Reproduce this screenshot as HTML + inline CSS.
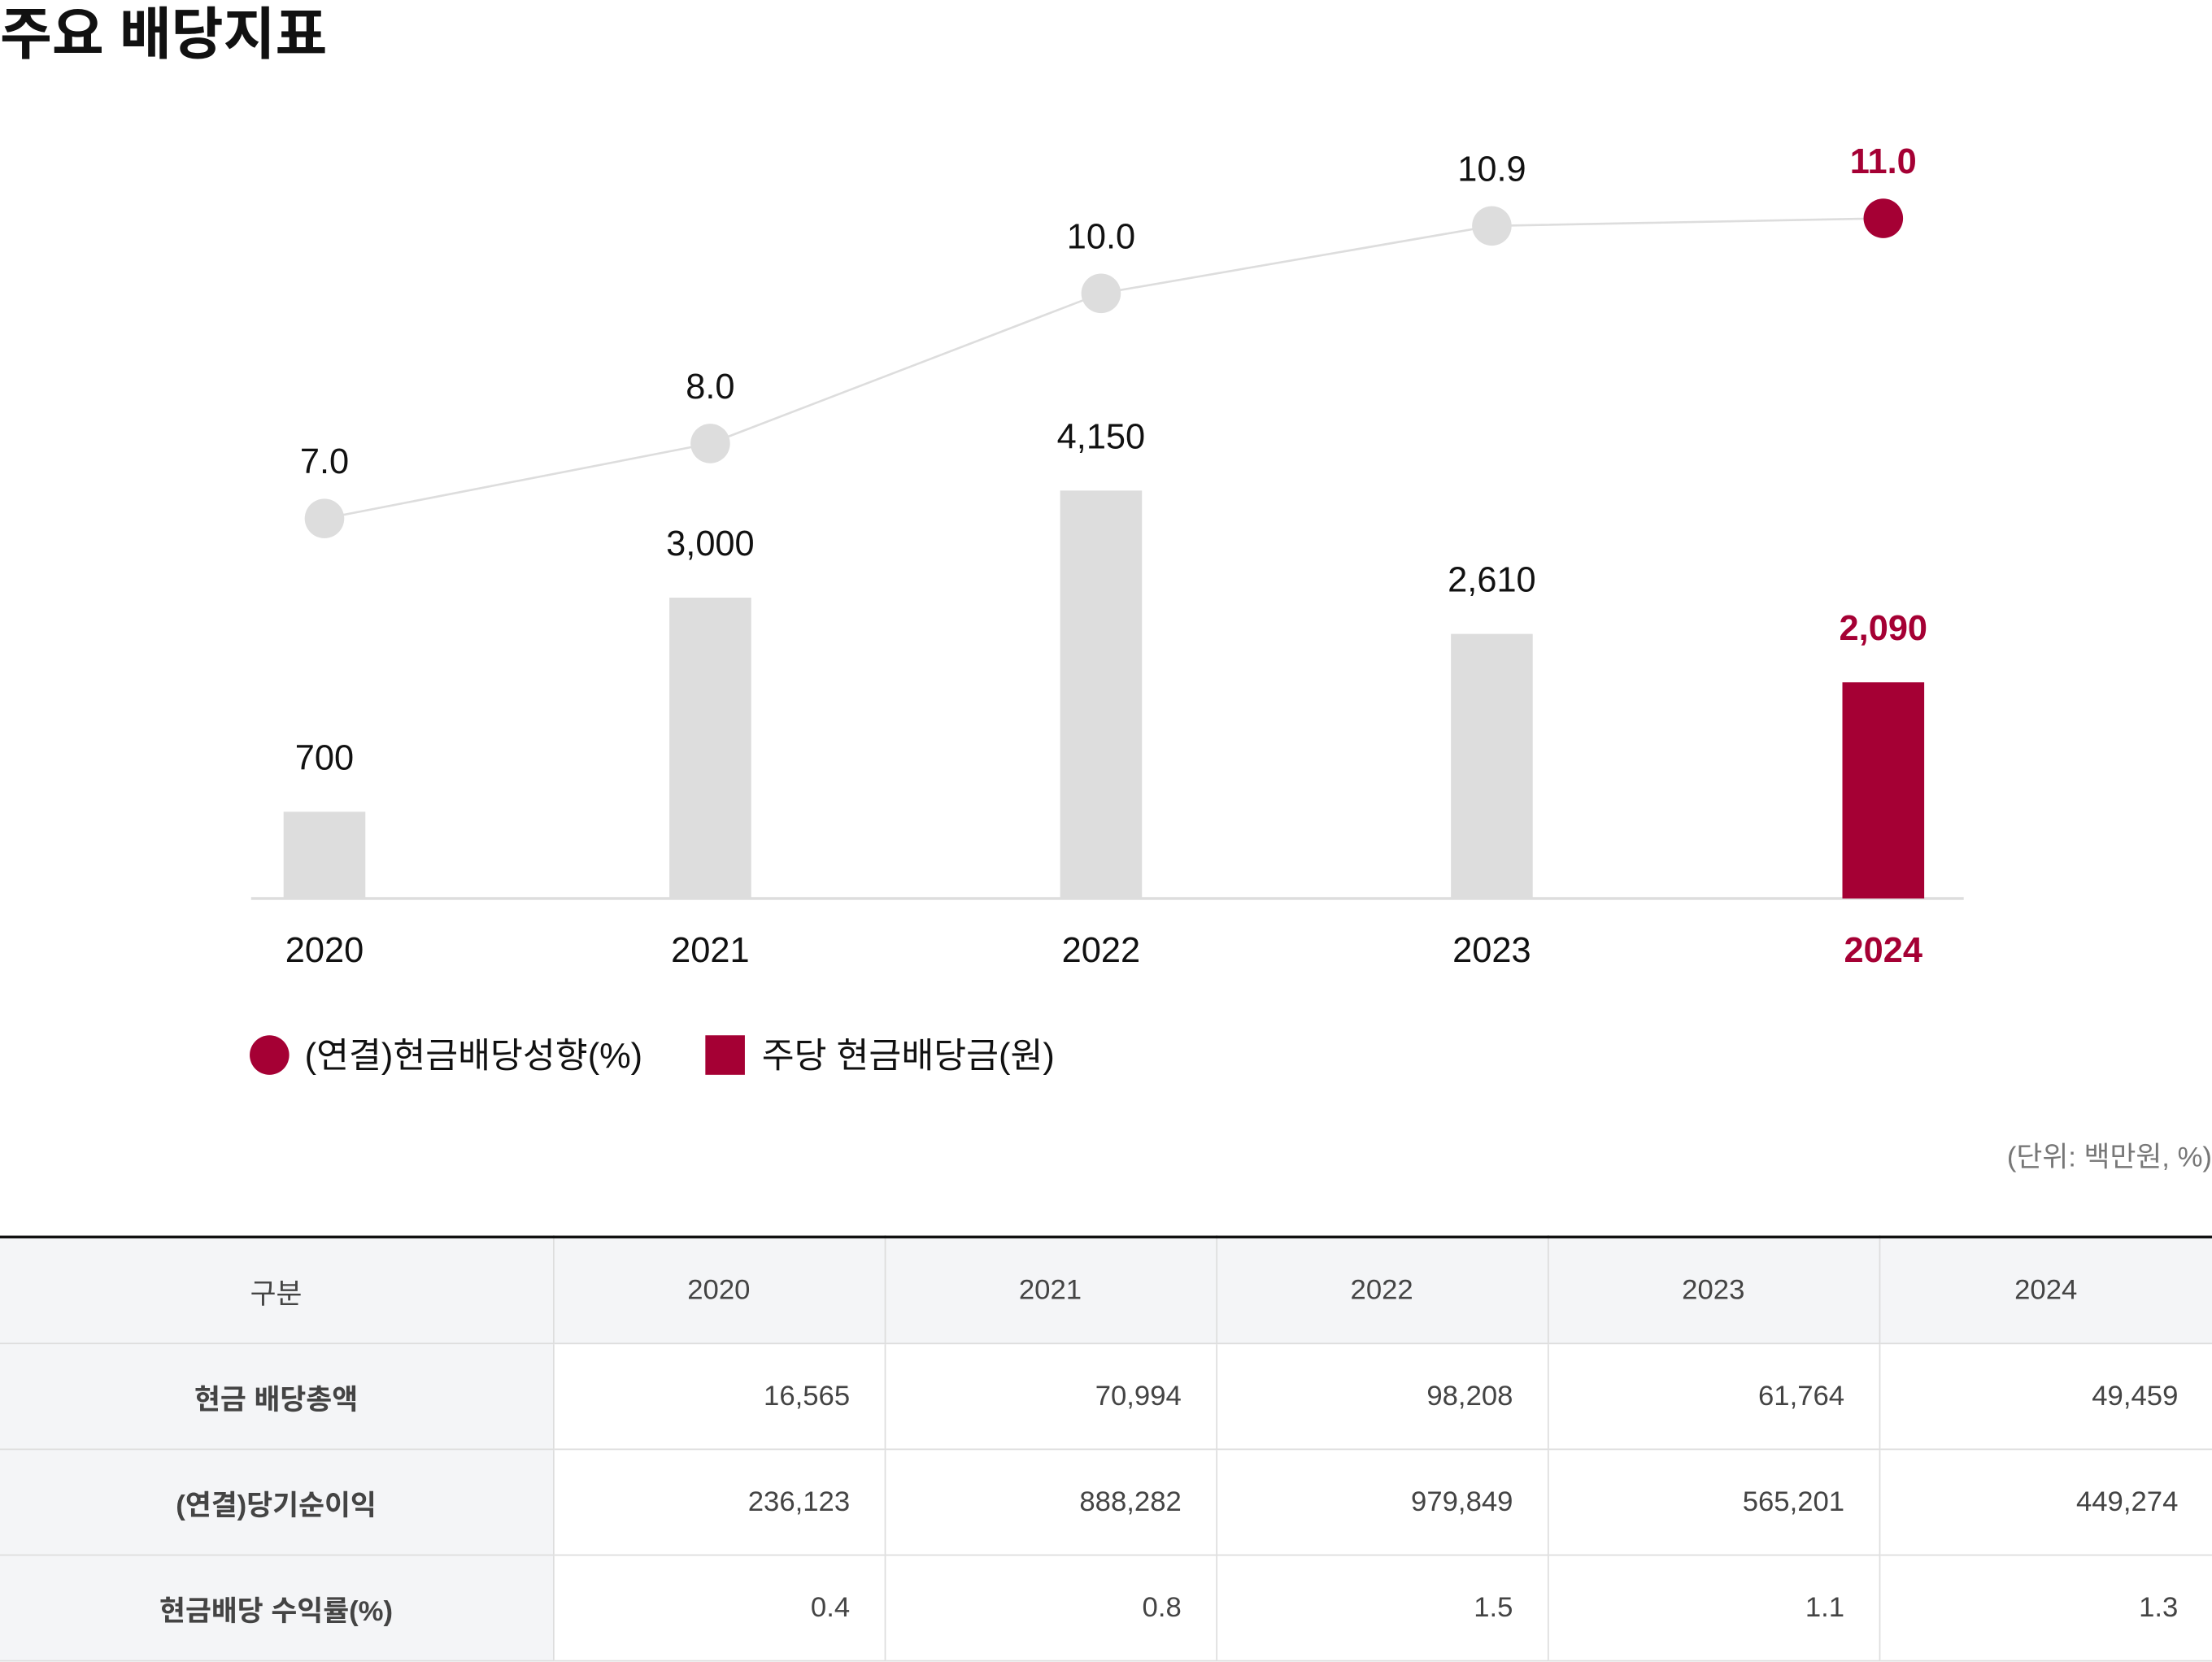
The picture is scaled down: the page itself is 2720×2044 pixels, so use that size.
<!DOCTYPE html>
<html lang="ko"><head><meta charset="utf-8">
<style>
html,body{margin:0;padding:0;background:#fff;}
body{width:2720px;height:2044px;overflow:hidden;font-family:"Liberation Sans","Noto Sans CJK KR",sans-serif;}
#wrap{position:absolute;left:0;top:0;width:1568px;height:1178px;transform:scale(1.73469);transform-origin:0 0;}
h1{position:absolute;left:0;top:-8px;margin:0;font-size:40px;font-weight:700;color:#111;}
#unit{position:absolute;right:0;top:804px;font-size:20px;color:#777;}
table{position:absolute;left:0;top:876px;width:1568px;border-collapse:collapse;border-top:2px solid #111;font-size:20px;color:#444;}
td,th{height:74px;border-bottom:1px solid #ddd;border-left:1px solid #ddd;padding:0 24px;font-weight:400;}
tr td:first-child,tr th:first-child{border-left:none;}
thead th{background:#f4f5f7;text-align:center;}
tbody th{background:#f4f5f7;text-align:center;font-weight:700;color:#444;}
tbody td{text-align:right;}
</style></head><body>
<div id="wrap">
<h1>주요 배당지표</h1>
<svg id="chart" width="1568" height="790" style="position:absolute;left:0;top:0" font-family="Liberation Sans, Noto Sans CJK KR, sans-serif"></svg>
<div id="unit">(단위: 백만원, %)</div>
<table>
<colgroup><col style="width:392px"><col style="width:235px"><col style="width:235px"><col style="width:235px"><col style="width:235px"><col></colgroup>
<thead><tr><th>구분</th><th>2020</th><th>2021</th><th>2022</th><th>2023</th><th>2024</th></tr></thead>
<tbody>
<tr><th>현금 배당총액</th><td>16,565</td><td>70,994</td><td>98,208</td><td>61,764</td><td>49,459</td></tr>
<tr><th>(연결)당기순이익</th><td>236,123</td><td>888,282</td><td>979,849</td><td>565,201</td><td>449,274</td></tr>
<tr><th>현금배당 수익률(%)</th><td>0.4</td><td>0.8</td><td>1.5</td><td>1.1</td><td>1.3</td></tr>
</tbody></table>
</div>
<script>
const categories = ["2020","2021","2022","2023","2024"];
const dps = [700,3000,4150,2610,2090];
const payout = [7.0,8.0,10.0,10.9,11.0];
const dpsLabels = ["700","3,000","4,150","2,610","2,090"];
const payoutLabels = ["7.0","8.0","10.0","10.9","11.0"];

const RED="#a50034", GRAY="#dddddd";
const svg=document.getElementById('chart');
const NS="http://www.w3.org/2000/svg";
function mk(t,a){const e=document.createElementNS(NS,t);for(const k in a)e.setAttribute(k,a[k]);svg.appendChild(e);return e;}
const baseY=637;
function xPos(i){return [230,503.5,780.5,1057.5,1335][i];}
function barH(v){return 15.3+v*0.066;}
function lineY(v){return 241-(v-9.38)*53.2;}

let ax=mk('line',{x1:178,x2:1392,y1:baseY,y2:baseY,stroke:'#ddd','stroke-width':2});



dps.forEach((v,i)=>{
  const last=i===dps.length-1;
  const h=barH(v);
  const r=mk('rect',{x:xPos(i)-29,y:baseY-h,width:58,height:h,fill:last?RED:GRAY});
  
  
  const t=mk('text',{x:xPos(i),y:baseY-h-30,'text-anchor':'middle','font-size':25,fill:last?RED:'#111','font-weight':last?700:400});
  t.textContent=dpsLabels[i];
  
  
  const c=mk('text',{x:xPos(i),y:682,'text-anchor':'middle','font-size':25,fill:last?RED:'#111','font-weight':last?700:400});
  c.textContent=categories[i];
  
  
});

const pl=mk('polyline',{points:payout.map((v,i)=>xPos(i)+','+lineY(v)).join(' '),fill:'none',stroke:'#ddd','stroke-width':1.5});


payout.forEach((v,i)=>{
  const last=i===payout.length-1;
  const c=mk('circle',{cx:xPos(i),cy:lineY(v),r:14,fill:last?RED:GRAY});
  
  
  const t=mk('text',{x:xPos(i),y:lineY(v)-32,'text-anchor':'middle','font-size':25,fill:last?RED:'#111','font-weight':last?700:400});
  t.textContent=payoutLabels[i];
  
  
});

const lc=mk('circle',{cx:191,cy:748,r:14,fill:RED});


const lt=mk('text',{x:216,y:757,'font-size':25,fill:'#111'});
lt.textContent='(연결)현금배당성향(%)';


const ls=mk('rect',{x:500,y:734,width:28,height:28,fill:RED});


const lt2=mk('text',{x:540,y:757,'font-size':25,fill:'#111'});
lt2.textContent='주당 현금배당금(원)';


</script>
</body></html>
